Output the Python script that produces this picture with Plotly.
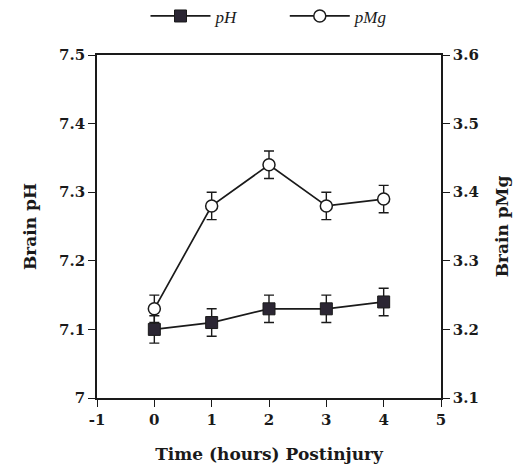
import plotly.graph_objects as go

hours = [0, 1, 2, 3, 4]
ph = [7.10, 7.11, 7.13, 7.13, 7.14]
ph_err = [0.02, 0.02, 0.02, 0.02, 0.02]
pmg = [3.23, 3.38, 3.44, 3.38, 3.39]
pmg_err = [0.02, 0.02, 0.02, 0.02, 0.02]

x_ticks = [-1, 0, 1, 2, 3, 4, 5]
ph_ticks = [7, 7.1, 7.2, 7.3, 7.4, 7.5]
ph_labels = ["7", "7.1", "7.2", "7.3", "7.4", "7.5"]
pmg_ticks = [3.1, 3.2, 3.3, 3.4, 3.5, 3.6]
pmg_labels = ["3.1", "3.2", "3.3", "3.4", "3.5", "3.6"]

ink = "#1a1a1a"
serif = "DejaVu Serif"
tick_font = dict(family=serif, size=15, color=ink, weight="bold")
title_font = dict(family=serif, size=17, color=ink, weight="bold")

fig = go.Figure()
fig.add_trace(go.Scatter(
    x=hours, y=ph, name="<i>pH</i>          ", mode="lines+markers",
    line=dict(color=ink, width=1.7),
    marker=dict(symbol="square", size=12, color="#2b2633", line=dict(color=ink, width=1)),
    error_y=dict(type="data", array=ph_err, color=ink, thickness=1.4, width=5),
    yaxis="y",
))
fig.add_trace(go.Scatter(
    x=hours, y=pmg, name="<i>pMg</i>", mode="lines+markers",
    line=dict(color=ink, width=1.7),
    marker=dict(symbol="circle", size=12, color="white", line=dict(color=ink, width=1.5)),
    error_y=dict(type="data", array=pmg_err, color=ink, thickness=1.4, width=5),
    yaxis="y2",
))

common = dict(showline=True, linecolor=ink, linewidth=1.6,
              ticks="outside", ticklen=7, tickcolor=ink, tickwidth=1.4,
              showgrid=False, zeroline=False, tickfont=tick_font)

fig.update_layout(
    width=521, height=471,
    margin=dict(l=89, r=88, t=47, b=81, autoexpand=False),
    paper_bgcolor="white", plot_bgcolor="white",
    showlegend=True,
    legend=dict(orientation="h", x=0.5, xanchor="center", y=1.06, yanchor="bottom",
                font=dict(family="Liberation Serif", size=17, color=ink),
                itemwidth=60, tracegroupgap=0, bgcolor="rgba(0,0,0,0)"),
    xaxis=dict(
        range=[-1, 5], tickvals=x_ticks, ticktext=[str(v) for v in x_ticks],
        mirror=True,
        title=dict(text="Time (hours) Postinjury", font=title_font, standoff=20),
        **common,
    ),
    yaxis=dict(
        range=[7, 7.5], tickvals=ph_ticks, ticktext=ph_labels,
        title=dict(text="Brain pH", font=title_font, standoff=18),
        **common,
    ),
    yaxis2=dict(
        range=[3.1, 3.6], tickvals=pmg_ticks, ticktext=pmg_labels,
        overlaying="y", side="right",
        title=dict(text="Brain pMg", font=title_font, standoff=18),
        **common,
    ),
)

fig.write_html("out.html")
